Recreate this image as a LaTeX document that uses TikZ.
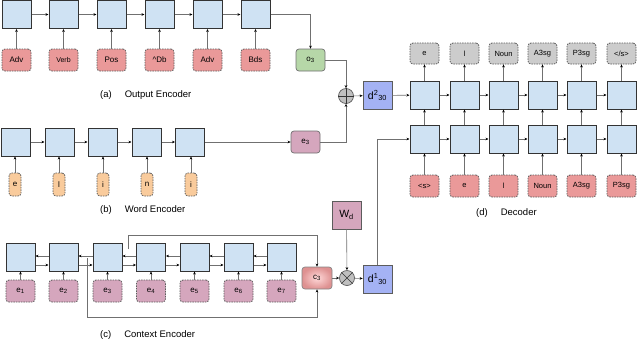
\documentclass[tikz,border=0pt]{standalone}
\usepackage{fontspec}
\setmainfont{Liberation Sans}
\usetikzlibrary{arrows.meta}
\definecolor{cellblue}{HTML}{CFE2F3}
\definecolor{redbox}{HTML}{EA9999}
\definecolor{orangebox}{HTML}{F9CB9C}
\definecolor{pinkbox}{HTML}{D5A6BD}
\definecolor{greenbox}{HTML}{B6D7A8}
\definecolor{graybox}{HTML}{CCCCCC}
\definecolor{dblue}{RGB}{164,178,244}
\definecolor{edge}{HTML}{333333}
\definecolor{wire}{HTML}{707070}
\tikzset{
  cell/.style={draw=edge, line width=1pt, fill=cellblue, minimum width=29pt, minimum height=28pt, inner sep=0pt},
  dbox/.style={draw=edge!80, line width=0.8pt, dash pattern=on 1.5pt off 1pt, rounded corners=3pt, minimum width=29pt, minimum height=22pt, inner sep=0pt, font=\fontsize{8}{9}\selectfont},
  redin/.style={dbox, fill=redbox},
  orin/.style={dbox, fill=orangebox, minimum width=12pt, minimum height=23pt},
  pinkin/.style={dbox, fill=pinkbox},
  grayout/.style={dbox, fill=graybox, minimum height=21pt},
  solidbox/.style={draw=edge!70, line width=0.7pt, rounded corners=3pt, minimum width=29pt, minimum height=22pt, inner sep=0pt, font=\fontsize{8}{9}\selectfont},
  sqbox/.style={draw=edge!80, line width=0.7pt, minimum width=29pt, minimum height=28pt, inner sep=0pt, font=\fontsize{10.5}{11}\selectfont},
  opc/.style={circle, draw=edge!80, line width=0.7pt, fill=gray!50, minimum size=15pt, inner sep=0pt},
  wr/.style={draw=wire, line width=0.6pt},
  ar/.style={wr, -{Stealth[length=3pt,width=2.6pt,color=black]}},
  captxt/.style={anchor=west, font=\fontsize{9.5}{10}\selectfont, inner sep=0pt}
}
\begin{document}
\begin{tikzpicture}[x=1pt,y=-1pt]
\useasboundingbox (0,0) rectangle (640,341);

% ---------- (a) Output encoder ----------
\foreach \i/\x/\lab/\fs in {1/16.5/Adv/8, 2/63.5/Verb/7, 3/111.5/Pos/8, 4/159.5/\textasciicircum Db/8, 5/207.5/Adv/8, 6/255.5/Bds/8}{
  \node[cell] (oc\i) at (\x,14.5) {};
  \node[redin, font=\fontsize{\fs}{9}\selectfont] (oi\i) at (\x,60) {\lab};
  \draw[ar] (oi\i) -- (oc\i);
}
\foreach \i [evaluate=\i as \j using int(\i+1)] in {1,...,5}{ \draw[ar] (oc\i) -- (oc\j); }
\node[solidbox, fill=greenbox] (o3) at (310.5,60) {o\textsubscript{3}};
\draw[ar] (oc6.east) -| (o3.north);
\node[captxt] (capa) at (100,95) {(a)\hspace{13pt}Output Encoder};

% ---------- (b) Word encoder ----------
\foreach \i/\x/\xi/\lab in {1/16/15/e, 2/59.5/59/l, 3/102.5/103/i, 4/146.5/147/n, 5/190/191/i}{
  \node[cell] (wc\i) at (\x,142) {};
  \node[orin] (wi\i) at (\xi,184.5) {\lab};
  \draw[ar] (wi\i.north) -- (wi\i.north |- wc\i.south);
}
\foreach \i [evaluate=\i as \j using int(\i+1)] in {1,...,4}{ \draw[ar] (wc\i) -- (wc\j); }
\node[solidbox, fill=pinkbox] (e3) at (305.5,142) {e\textsubscript{3}};
\draw[ar] (wc5) -- (e3);
\node[captxt] (capb) at (100,210) {(b)\hspace{13pt}Word Encoder};

% ---------- (c) Context encoder ----------
\foreach \i/\x in {1/20.5, 2/63.5, 3/107.5, 4/151, 5/194.5, 6/238.5, 7/281.5}{
  \node[cell] (cc\i) at (\x,257) {};
  \node[pinkin] (ci\i) at (\x,291) {e\textsubscript{\i}};
  \draw[ar] (ci\i) -- (cc\i);
}
\foreach \i [evaluate=\i as \j using int(\i+1)] in {1,...,6}{
  \draw[ar] ([yshift=-8pt]cc\i.east) -- ([yshift=-8pt]cc\j.west);
  \draw[ar] ([yshift=1pt]cc\j.west) -- ([yshift=1pt]cc\i.east);
}
\node[solidbox, inner color=red!15, outer color=redbox!95!black, draw=edge!60, minimum width=30pt] (c3) at (317,278) {c\textsubscript{3}};
\coordinate (fw) at (128,249);
\coordinate (bw) at (87,258);
\draw[ar] (fw) -- (128,235) -| (c3.north);
\draw[ar] (bw) -- (87,317) -| (c3.south);
\node[opc] (mul) at (347,278) {};
\draw[edge, line width=0.6pt] (mul.north west) -- (mul.south east) (mul.north east) -- (mul.south west);
\node[sqbox, fill=pinkbox] (wd) at (346.5,215) {W\textsubscript{d}};
\node[sqbox, fill=dblue] (d1) at (377.5,279) {d\textsuperscript{1}\textsubscript{30}};
\draw[ar] (c3) -- (mul);
\draw[ar] (wd) -- (mul);
\draw[ar] (mul) -- (d1);
\node[captxt] (capc) at (100,335) {(c)\hspace{13pt}Context Encoder};

% ---------- merge ----------
\node[opc] (add) at (346,96) {};
\draw[edge, line width=0.6pt] (add.north) -- (add.south) (add.west) -- (add.east);
\draw[ar] (o3.east) -| (add.north);
\draw[ar] (e3.east) -| (add.south);
\node[sqbox, fill=dblue] (d2) at (377.5,95.5) {d\textsuperscript{2}\textsubscript{30}};
\draw[ar] (add) -- (d2);

% ---------- (d) Decoder ----------
\foreach \i/\x/\inp in {1/424.5/{<s>}, 2/464.5/e, 3/503.5/l, 4/542.5/Noun, 5/581.5/A3sg, 6/621.5/P3sg}{
  \node[cell] (du\i) at (\x,95) {};
  \node[cell] (dl\i) at (\x,139) {};
  \node[redin, font=\fontsize{7.5}{9}\selectfont] (di\i) at (\x,186) {\inp};
  \draw[ar] (di\i) -- (dl\i);
  \draw[ar] (dl\i) -- (du\i);
}
\foreach \i/\x/\outp in {1/424.5/e, 2/464.5/l, 3/503.5/Noun, 4/542.5/A3sg, 5/581.5/P3sg, 6/621.5/{</s>}}{
  \node[grayout, font=\fontsize{7.5}{9}\selectfont] (do\i) at (\x,53.5) {\outp};
  \draw[ar] (du\i) -- (do\i);
}
\foreach \i [evaluate=\i as \j using int(\i+1)] in {1,...,5}{
  \draw[ar] (du\i) -- (du\j);
  \draw[ar] (dl\i) -- (dl\j);
}
\draw[ar] (d2) -- (du1);
\draw[ar] (d1.north) |- (dl1.west);
\node[captxt] (capd) at (476,213) {(d)\hspace{13pt}Decoder};
\end{tikzpicture}
\end{document}
